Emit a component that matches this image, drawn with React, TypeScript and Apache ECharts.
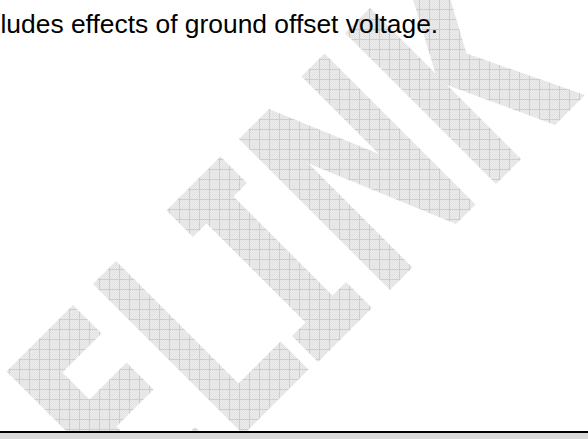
import React, { useEffect, useRef } from "react";
import * as echarts from "echarts";

// Visible caption text (page fragment)
const captionLines = ["ludes effects of ground offset voltage."];

// Watermark letters, outlines given in a 45°-rotated letter frame:
// a = x + y (along the stems), b = x - y (reading direction)
const watermarkLetters = ["E", "L", "I", "N", "K"];
const letterOutlines: Record<string, number[][]> = {
  E: [[378, -365], [378, -232], [435, -232], [435, -310], [489, -310], [489, -236], [543, -236], [543, -310], [622, -310], [622, -232], [678, -232], [678, -365]],
  L: [[377, -191], [377, -145], [622, -145], [622, -61], [678, -61], [678, -191]],
  I: [[377, -44], [377, 64], [430, 64], [430, 37], [628, 37], [628, 64], [680, 64], [680, -44], [628, -44], [628, -17], [430, -17], [430, -44]],
  N: [[378, 100], [378, 160], [533, 225], [378, 225], [378, 271], [680, 271], [680, 232], [472, 145], [680, 145], [680, 100]],
  K: [[378, 312], [378, 362], [509, 362], [378, 432], [378, 490], [520, 413], [680, 490], [680, 430], [532, 362], [680, 362], [680, 312]],
};

const W = 588;
const H = 439;

function toXY(p: number[]) {
  return [(p[0] + p[1]) / 2, (p[0] - p[1]) / 2];
}

function makeTile(): string {
  const c = document.createElement("canvas");
  c.width = 10;
  c.height = 10;
  const g = c.getContext("2d")!;
  for (let y = 0; y < 10; y++) {
    for (let x = 0; x < 10; x++) {
      g.fillStyle = (x + y) % 2 ? "#ececec" : "#e2e2e2";
      g.fillRect(x, y, 1, 1);
    }
  }
  g.fillStyle = "#cdcdcd";
  g.fillRect(0, 9, 10, 1);
  g.fillRect(9, 0, 1, 10);
  return c.toDataURL();
}

export default function App() {
  const ref = useRef<HTMLDivElement>(null);
  useEffect(() => {
    if (!ref.current) return;
    const chart = echarts.init(ref.current, undefined, { renderer: "svg", width: W, height: H });
    const tile = makeTile();
    const pattern: any = { image: tile, repeat: "repeat", imageWidth: 10, imageHeight: 10 };

    const letters = watermarkLetters.map((k) => ({
      type: "polygon",
      z: 1,
      silent: true,
      shape: { points: letterOutlines[k].map(toXY) },
      style: { fill: pattern, stroke: "none" },
    }));

    const texts = captionLines.map((t, i) => ({
      type: "text",
      z: 5,
      x: 0.5,
      y: 24 + i * 30,
      style: {
        text: t,
        fontSize: 26.4,
        fontFamily: '"Liberation Sans", Arial, sans-serif',
        fill: "#000",
        verticalAlign: "middle",
        align: "left",
      },
    }));

    chart.setOption({
      animation: false,
      backgroundColor: "#ffffff",
      graphic: [
        ...letters,
        ...texts,
        { type: "rect", z: 10, shape: { x: 0, y: 431, width: W, height: 2 }, style: { fill: "#000" } },
        { type: "rect", z: 10, shape: { x: 0, y: 433, width: W, height: 6 }, style: { fill: "#d9d9d9" } },
      ],
    });
    return () => chart.dispose();
  }, []);
  return (
    <div
      ref={ref}
      style={{ position: "fixed", left: 0, top: 0, width: W, height: H, background: "#fff" }}
    />
  );
}
